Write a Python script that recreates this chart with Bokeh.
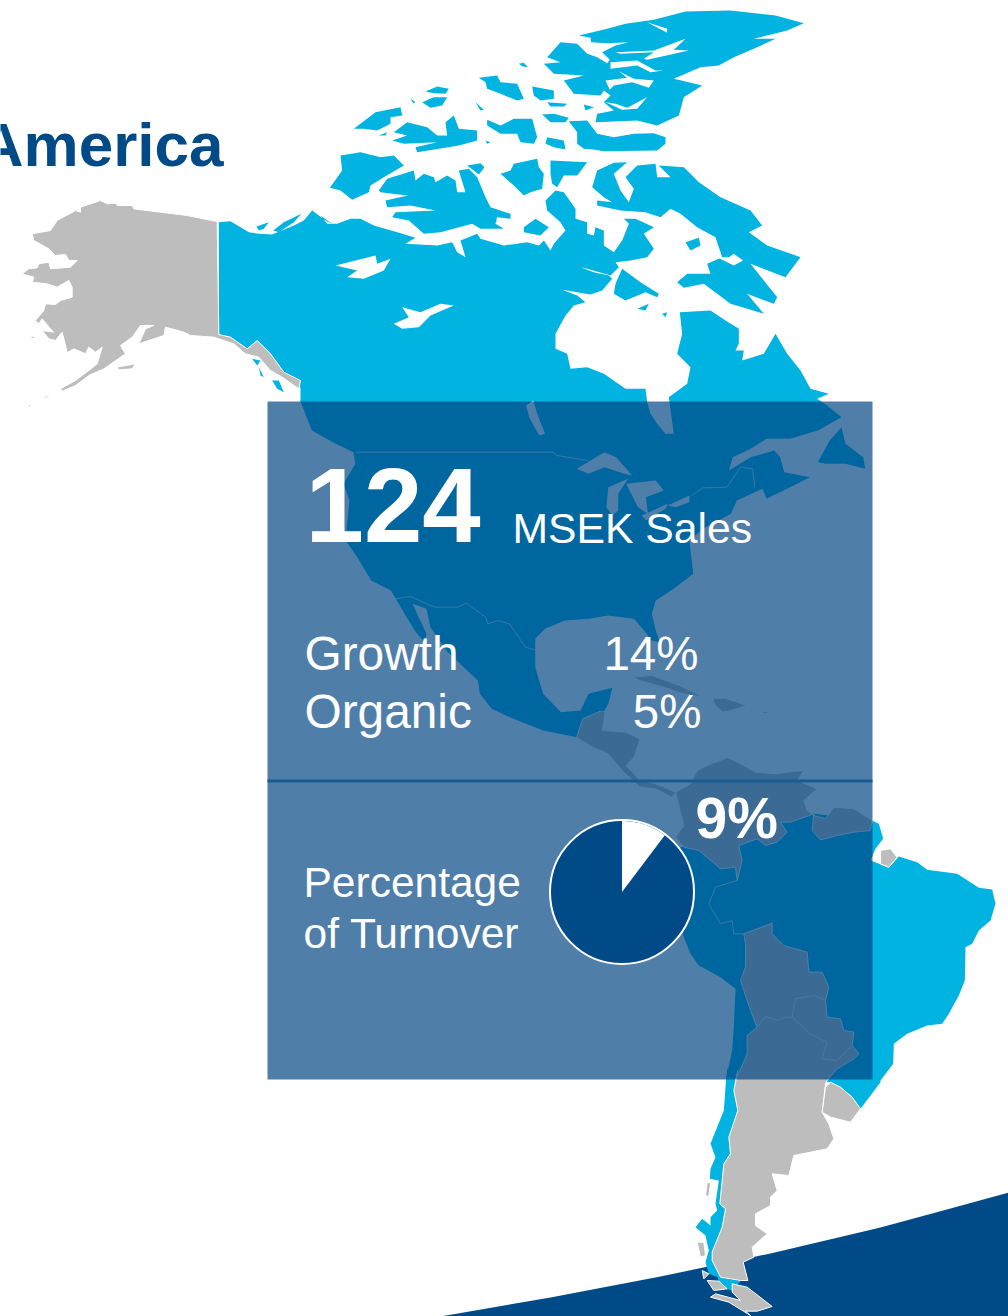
from bokeh.plotting import figure
from bokeh.embed import file_html
from bokeh.resources import INLINE
from bokeh.core.properties import value

# ---------- map outlines in page pixels ----------
def z1(*p): return [(320 + x / 3, y / 3) for x, y in p]
def z2(*p): return [(x / 3, 180 + y / 3) for x, y in p]
def z3(*p): return [(260 + x / 2.53, 400 + y / 3) for x, y in p]
def z4(*p): return [(640 + x / 3, 760 + y / 3) for x, y in p]
def z5(*p): return [(660 + x / 3, 1070 + y / 3) for x, y in p]

mainland = (
    z2((655,125),(690,122),(745,155),(775,160),(815,162),(880,135),(910,120),(935,90),(975,120),(995,130))
    + z1((0,645),(20,670),(50,670),(90,655),(120,655),(160,675),(230,695),(285,712),(255,730),(350,735),(395,725),
         (410,755),(435,770),(420,720),(470,700),(480,715),(550,735),(620,725),(655,735),(670,720),(690,750),(700,730),
         (735,690),(720,665),(680,630),(675,600),(705,570),(730,575),(765,625),(765,655),(800,665),(800,700),(820,705),
         (825,680),(850,690),(850,735),(880,755),(905,720),(925,670),(910,655),(945,655),(1000,680),(970,700),(1000,745),
         (980,770),(930,780),(885,785),(895,800),(870,825),(800,805),(780,800),(820,815),(865,825),(875,835),(845,870),
         (810,882),(770,875),(725,868),(770,885),(795,905),(760,915),(735,945),(705,1000),(705,1045),(740,1060),(750,1105),
         (800,1100),(850,1120),(915,1165),(975,1165),(980,1205),(990,1240),(1010,1270),(1035,1300),(1060,1300),(1045,1190),
         (1100,1150),(1110,1100),(1070,1060),(1085,1000),(1078,935),(1170,930),(1215,960),(1255,985),(1255,1030),(1245,1050),
         (1270,1050),(1265,1080),(1330,1060),(1365,1000),(1400,1060),(1440,1110),(1470,1165),(1525,1180),(1490,1195),(1520,1215))
    + z3((1470,50),(1410,90),(1340,115),(1280,115),(1240,145),(1195,170),(1185,210),(1240,170),(1300,150),(1315,170),(1325,215),
         (1390,230),(1340,260),(1280,295),(1270,265),(1205,300),(1190,340),(1120,385),(1085,420),(1090,470),(1095,520),
         (1045,565),(1000,600),(990,640),(1000,690),(1010,725),(990,720),(970,690),(945,655),(880,645),(830,655),(770,660),
         (720,685),(695,715),(695,800),(715,880),(760,935),(810,930),(830,880),(890,862),(880,910),(860,950),(850,1000),
         (800,1010),(715,990),(640,955),(585,925),(555,880),(550,840),(505,790),(470,750),(430,680),(420,625),(385,610),
         (400,650),(420,700),(415,725),(390,690),(370,650),(340,590),(330,570),(280,540),(245,470),(215,420),(225,300),
         (210,250),(240,190),(235,155),(190,130),(130,90),(100,0))
    + z2((900,660),(900,625),(895,600),(850,575),(810,520),(770,480),(740,505),(690,470),(655,462))
)

south_america = (
    z4((120,260),(520,160),(695,180),(715,190),(728,235),(705,265),(690,300),(715,310),(745,322),(775,288),(830,305),(860,328),
       (950,340),(1015,382),(1055,387),(1065,430),(1050,480),(1015,510),(995,550),(975,560),(973,660),(955,705),(925,760),
       (905,790),(860,795),(800,820),(760,850),(758,910),(720,960))
    + z5((660,35),(600,115),(575,80),(540,50),(510,35),(400,30),(230,30),(200,30))
    + z4((255,965),(262,930),(275,870),(280,800),(285,685),(240,650),(175,615),(150,580),(130,530),(100,420))
)

chile = z5((200,-5),(232,-5),(220,60),(232,120),(205,200),(210,250),(190,280),(185,330),(178,400),(195,415),(185,470),(165,530),
           (155,560),(175,610),(180,620),(240,632),(215,660),(175,650),(172,620),(145,610),(135,575),(145,540),(135,495),(105,470),
           (125,445),(150,465),(150,440),(170,420),(165,400),(175,330),(148,325),(150,295),(165,260),(150,220),(190,120),(195,50))

cyan_shapes = [mainland, south_america, chile] + [z1(*s) for s in [
    [(775,105),(860,85),(915,70),(1000,58),(1095,33),(1230,30),(1365,45),(1450,68),(1400,90),(1300,115),(1365,115),(1300,145),
     (1240,170),(1195,195),(1140,200),(1060,235),(1145,255),(1090,290),(1075,345),(1010,375),(950,360),(825,365),(830,340),
     (855,335),(880,330),(850,305),(870,285),(850,270),(840,285),(760,280),(730,240),(790,225),(700,220),(670,190),(720,185),
     (680,170),(720,125),(770,130),(800,160),(830,170),(860,188),(868,178),(845,155),(885,135),(925,125),(860,128),(812,125),(810,112)],
    [(475,232),(530,225),(540,245),(590,250),(610,295),(590,300),(540,280),(500,265),(495,245)],
    [(635,258),(700,270),(700,295),(660,300),(640,285)],
    [(680,305),(740,310),(730,318),(690,318)],
    [(790,312),(820,320),(795,330)],
    [(665,342),(700,340),(745,352),(735,365),(690,365)],
    [(745,362),(800,360),(830,400),(880,410),(940,400),(1000,398),(1035,410),(1035,430),(1010,450),(850,452),(820,447),(790,445),(770,430),(770,395)],
    [(680,410),(730,420),(735,447),(700,440),(675,430)],
    [(595,190),(610,187),(622,200),(605,197)],
    [(315,273),(350,258),(385,265),(375,280),(340,278)],
    [(305,305),(340,290),(380,290),(365,315),(330,322)],
    [(270,295),(285,305),(278,308)],
    [(465,305),(490,328),(480,330)],
    [(100,385),(165,335),(240,320),(245,345),(210,350),(210,370),(170,390),(130,385)],
    [(175,405),(200,395),(195,405)],
    [(220,395),(260,365),(320,380),(350,405),(380,405),(375,365),(400,345),(415,385),(470,390),(470,420),(415,435),(290,455),(285,440),(350,425),(250,430),(215,420),(260,405)],
    [(495,420),(510,425),(500,430)],
    [(500,358),(540,375),(580,355),(635,355),(650,410),(640,430),(600,425),(590,400),(540,400),(500,375)],
    [(60,465),(120,455),(180,470),(220,465),(250,495),(190,530),(150,555),(145,575),(95,598),(60,570),(28,562),(65,510)],
    [(175,570),(200,535),(280,510),(285,540),(310,520),(340,530),(345,545),(380,525),(405,540),(410,575),(435,575),(415,510),(445,505),(470,530),(495,590),(510,620),(570,640),(570,655),(530,650),(525,670),(550,685),(480,685),(455,670),(360,695),(310,700),(265,660),(215,650),(225,635),(345,630),(270,615),(200,620),(195,600),(262,585),(180,575)],
    [(440,495),(480,488),(492,500),(475,522)],
    [(540,520),(570,510),(580,490),(650,475),(655,500),(670,520),(665,565),(630,575),(610,585),(580,555)],
    [(690,480),(800,485),(770,525),(730,525),(710,560),(695,550),(690,520)],
    [(610,680),(645,655),(685,680),(660,705),(610,695)],
    [(815,560),(830,510),(880,487),(920,485),(880,520),(900,570),(925,605),(940,565),(915,530),(950,495),(1005,490),(1010,530),(1050,530),(1015,495),(1090,500),(1115,525),(1135,545),(1200,590),(1290,630),(1325,675),(1285,695),(1340,735),(1440,770),(1395,830),(1290,790),(1370,890),(1360,910),(1280,880),(1330,940),(1230,910),(1150,850),(1090,862),(1070,845),(1100,820),(1170,820),(1160,790),(1205,770),(1185,710),(1130,680),(1080,640),(1050,625),(1020,650),(975,635),(900,630),(830,615),(830,600),(875,605),(850,590)],
    [(885,850),(905,805),(960,845),(1015,880),(1010,890),(975,875),(915,900),(880,880)],
    [(950,925),(985,910),(975,930)],
    [(1025,940),(1040,935),(1035,950)],
]] + [
    z2((768,138),(805,125),(790,145),(775,150)),
    z2((818,150),(850,125),(903,100),(880,125),(835,155)),
    z3((1410,185),(1440,120),(1470,80),(1480,130),(1525,170),(1530,205),(1480,190),(1430,190)),
    z2((755,535),(780,540),(770,555)),
    z2((790,535),(805,545),(805,565)),
    z2((775,560),(790,590),(780,585)),
    z2((815,600),(835,600),(850,635),(830,625)),
]

white_shapes = [z1(*s) for s in [
    [(885,155),(1000,150),(1095,115),(1060,148),(1105,150),(980,178),(970,175),(1000,155),(900,160)],
    [(870,185),(950,180),(1005,210),(1030,210),(990,215),(950,195),(870,205)],
    [(895,212),(940,235),(1000,240),(985,262),(935,245),(880,255),(868,268),(855,240),(920,232)],
    [(855,305),(885,310),(920,322),(980,290),(950,325),(905,328)],
    [(980,65),(1040,85),(1040,97)],
    [(1190,770),(1225,770),(1240,760),(1268,780),(1240,795),(1220,785)],
    [(45,795),(165,765),(170,790),(210,775),(190,810),(130,835),(80,830),(110,810)],
    [(245,920),(300,935),(360,910),(400,915),(330,945),(295,980),(245,985),(220,970),(265,950)],
]] + [z3(*s) for s in [
    [(800,205),(870,155),(900,170),(940,225),(920,220),(870,200),(830,220)],
    [(875,320),(880,260),(930,235),(905,280),(905,330),(890,345)],
    [(925,250),(1000,240),(1020,270),(975,290),(980,340),(955,320),(940,285)],
    [(965,345),(1030,310),(1025,325),(975,360)],
    [(1030,315),(1085,285),(1085,305),(1050,320)],
    [(672,15),(690,0),(700,40),(720,100),(705,105),(680,50)],
]]

cyan_on_white = [z1((1095,725),(1135,712),(1140,735),(1110,750))]

alaska = z2((650,123),(560,105),(480,95),(400,85),(395,75),(350,75),(345,68),(320,70),(300,60),(240,80),(240,95),(225,90),(170,120),
            (150,150),(95,160),(100,180),(145,205),(165,225),(195,222),(205,240),(230,240),(210,260),(150,265),(145,245),(115,250),
            (110,262),(85,265),(65,280),(100,290),(95,305),(140,310),(170,320),(205,300),(215,320),(215,350),(180,360),(165,372),
            (135,370),(130,390),(105,420),(115,430),(125,415),(150,445),(160,455),(125,450),(145,475),(165,480),(185,455),(190,475),
            (200,515),(195,520),(220,505),(255,520),(265,500),(285,515),(305,500),(290,550),(265,570),(225,600),(180,625),(185,632),
            (225,615),(265,585),(310,565),(375,520),(360,495),(395,470),(420,435),(460,435),(435,445),(415,490),(490,465),(495,440),(550,455),
            (570,465),(640,470),(670,480),(700,490),(735,520),(775,530),(810,570),(845,590),(895,625),(900,600),(850,575),(810,520),
            (770,480),(740,505),(690,470),(655,462))

central_america = z3((800,1010),(815,955),(860,932),(872,935),(865,990),(925,995),(960,1015),(945,1070),(925,1095),(960,1140),(1000,1150),
                     (1050,1175),(1040,1190),(1000,1165),(960,1160),(915,1110),(880,1060),(840,1040))
north_south_america = z4((105,96),(150,70),(170,30),(200,15),(240,0),(260,-10),(300,10),(345,35),(410,40),(440,35),(490,30),(470,60),(530,85),
                         (490,120),(500,150),(520,165),(555,175),(580,140),(640,145),(695,180),(690,210),(640,215),(590,225),(540,238),(515,210),
                         (520,160),(450,185),(420,185),(440,215),(410,245),(375,255),(350,235),(295,255),(305,300),(290,360),(285,320),(240,325),
                         (175,270),(130,260),(105,230),(130,195))
southern_cone = (
    z4((310,520),(395,488),(395,520),(430,555),(500,575),(505,635),(545,635),(565,680),(555,720),(560,770),(600,775),(610,810),(640,815),
       (635,855),(655,880),(640,895),(590,925),(560,960))
    + z5((495,40),(485,125),(505,160),(520,205),(500,235),(400,255),(385,315),(335,310),(350,360),(330,380),(330,405),(285,430),(285,465),(320,490),
         (275,530),(280,560),(248,575),(262,630),(240,630),(180,620),(155,570),(155,545),(185,470),(195,415),(178,400),(185,330),(190,280),(210,250),
         (205,200),(232,120),(220,60),(232,0))
    + z4((285,960),(320,880),(320,825),(350,800),(330,750),(300,660),(315,620),(315,550))
)

grey_shapes = [alaska, central_america, north_south_america, southern_cone] + [
    z2((350,560),(405,550),(395,565),(355,568)),
    z2((87,472),(102,465),(100,474)),
    z2((128,650),(155,640),(135,653)),
    z2((83,675),(93,670),(86,682)),
    z4((720,270),(750,265),(770,290),(745,320),(720,310)),
    z5((510,35),(540,50),(575,80),(600,115),(570,155),(510,140),(485,125),(495,50)),
    z5((140,335),(150,338),(145,378),(135,375)),
    z5((110,515),(130,515),(135,555),(120,560)),
    z5((125,600),(145,610),(130,625)),
    z5((215,640),(260,650),(335,708),(290,722),(255,722),(270,735),(205,695),(150,680),(165,670),(240,690),(215,665)),
    z5((140,630),(175,632),(200,655),(160,660)),
    z3((940,830),(990,825),(1060,855),(1120,890),(1070,880),(1020,860),(960,840)),
    z3((1145,895),(1175,893),(1230,915),(1190,930),(1170,935),(1150,915)),
    z3((1262,935),(1285,933),(1280,940)),
]

border_lines = [
    z3((240,155),(740,155),(750,165),(830,180)),
    z3((1090,285),(1120,262),(1180,260),(1215,200),(1245,205),(1250,260)),
    z3((340,595),(380,588),(440,620),(500,620),(520,608),(570,650),(575,670),(600,660),(630,670),(670,740),(700,750)),
    z4((290,360),(225,380),(205,430),(240,490),(275,480),(280,520),(310,520)),
    z4((350,800),(375,768),(415,780),(435,770),(455,770),(465,715),(520,705),(555,720)),
    z4((455,770),(510,820),(560,845),(545,895),(590,900),(635,855)),
]

swoosh_x = [440, 550, 660, 770, 880, 950, 1008, 1008, 440]
swoosh_y = [1316, 1297, 1276, 1253, 1227, 1208, 1192, 1316, 1316]

# ---------- figures shown in the panel ----------
sales_value = "124"
sales_label = "MSEK Sales"
row_labels = ["Growth", "Organic"]
row_values = ["14%", "5%"]
share_label = ["Percentage", "of Turnover"]
share_percent = 9
pie_slice_percent = 10.3  # the slice as drawn in the picture

NAVY = "#004A87"
CYAN = "#00B3E0"
GREY = "#BDBDBD"
FONT = value("Liberation Sans")

p = figure(width=1008, height=1316, x_range=(0, 1008), y_range=(1316, 0),
           toolbar_location=None, output_backend="svg", min_border=0)
p.axis.visible = False
p.grid.visible = False
p.outline_line_color = None
p.background_fill_color = "white"
p.border_fill_color = "white"


def draw(shapes, **kw):
    xs = [[q[0] for q in s] for s in shapes]
    ys = [[q[1] for q in s] for s in shapes]
    p.patches(xs, ys, **kw)


p.patch(swoosh_x, swoosh_y, fill_color=NAVY, line_color=None)
draw(cyan_shapes, fill_color=CYAN, line_color=None)
draw(white_shapes, fill_color="white", line_color=None)
draw(cyan_on_white, fill_color=CYAN, line_color=None)
draw(grey_shapes, fill_color=GREY, line_color="white", line_width=1)
p.multi_line([[q[0] for q in s] for s in border_lines], [[q[1] for q in s] for s in border_lines],
             line_color="white", line_width=1, line_alpha=0.7)

# translucent panel
p.quad(left=[267], right=[872], top=[401], bottom=[1079], fill_color="#004483", fill_alpha=0.69, line_color=None)
p.line([267, 872], [780.5, 780.5], line_color="#1C5A92", line_width=3)

# pie
slice_angle = pie_slice_percent / 100 * 6.283185
p.circle(x=[621.5], y=[891.5], radius=72, fill_color=NAVY, line_color="white", line_width=2)
p.wedge(x=[621.5], y=[891.5], radius=71, radius_units="screen",
        start_angle=[1.570796 - slice_angle], end_angle=[1.570796],
        fill_color="white", line_color=None)


def label(x, y, s, size, style="normal", align="left", color="white"):
    # the alphabetic anchor sits about 0.35 em above the real baseline in this renderer
    p.text([x], [y - 0.35 * size], text=[s], text_font=FONT, text_font_size=f"{size}px", text_font_style=style,
           text_align=align, text_baseline="alphabetic", text_color=color)


label(223, 166, "America", 62, "bold", "right", NAVY)
label(305, 542, sales_value, 105, "bold")
label(512, 542, sales_label, 42.7)
label(304, 670, row_labels[0], 47.8)
label(304, 728, row_labels[1], 47.8)
label(698, 670, row_values[0], 47.5, align="right")
label(701, 728, row_values[1], 47.5, align="right")
label(303, 897, share_label[0], 42.5)
label(303, 948, share_label[1], 42.5)
label(695, 837, f"{share_percent}%", 57, "bold")

open("out.html", "w").write(file_html(p, INLINE))
